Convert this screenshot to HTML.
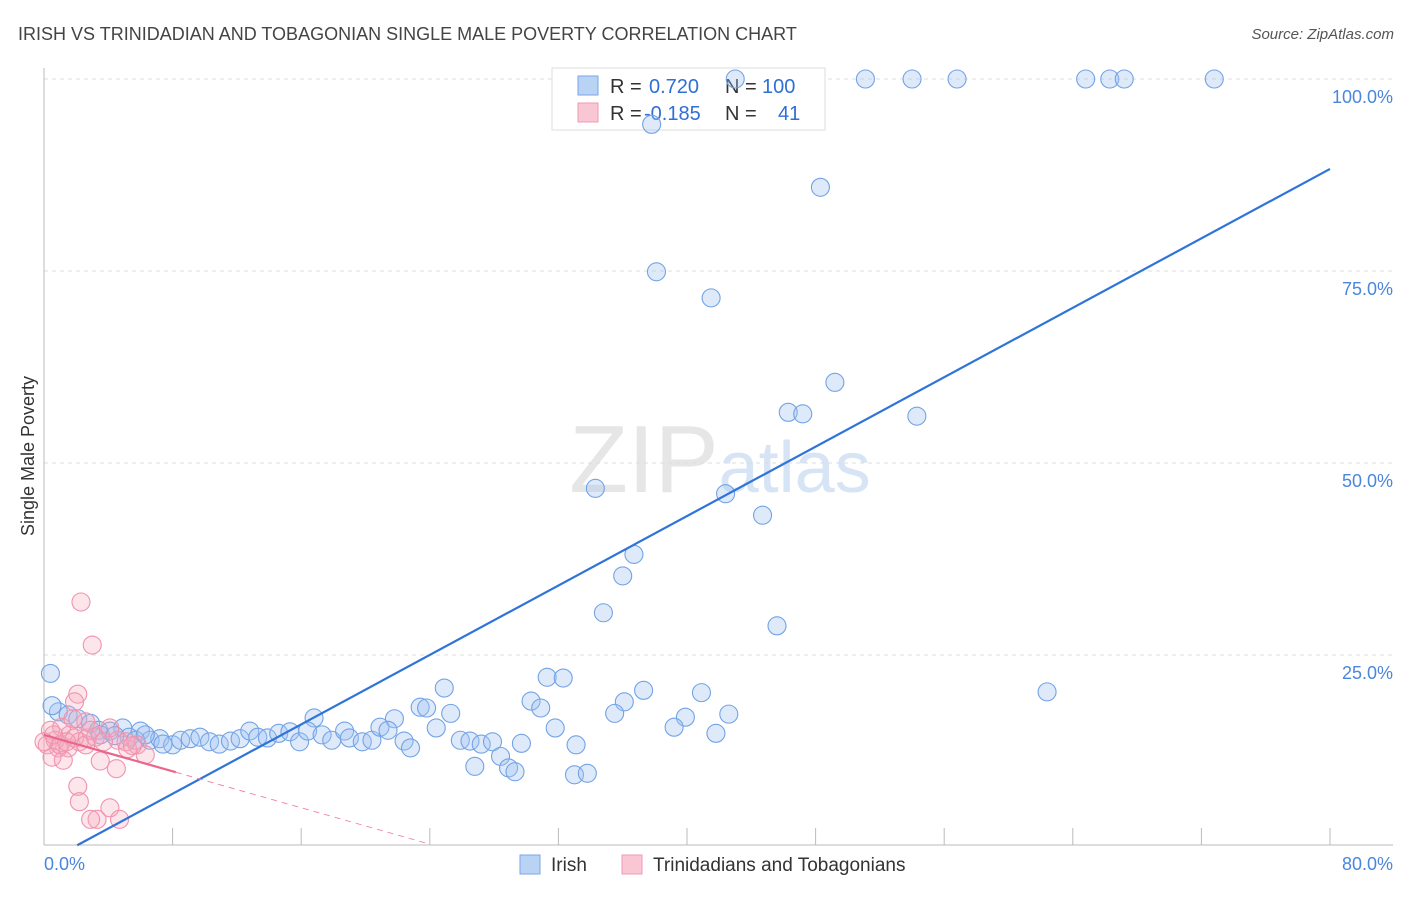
<!DOCTYPE html>
<html><head><meta charset="utf-8"><style>
body{margin:0;background:#fff;font-family:"Liberation Sans",sans-serif;}
svg text{font-family:"Liberation Sans",sans-serif;}
</style></head><body>
<svg id="chart" width="1406" height="892" xmlns="http://www.w3.org/2000/svg">
<text x="18" y="40" font-size="18" fill="#444">IRISH VS TRINIDADIAN AND TOBAGONIAN SINGLE MALE POVERTY CORRELATION CHART</text>
<text x="1394" y="39" font-size="15" fill="#555" text-anchor="end" font-style="italic">Source: ZipAtlas.com</text>
<text x="720" y="492" font-size="96" fill="#e6e6e6" text-anchor="middle" font-family="Liberation Serif">ZIP<tspan fill="#d6e4f5" font-family="Liberation Sans" font-size="72">atlas</tspan></text>
<g id="grid"></g>
<g id="axes"></g>
<g>
<rect x="552" y="68" width="273" height="62" fill="#fff" stroke="#ddd"/>
<rect x="578" y="76" width="20" height="19" fill="#b9d3f5" stroke="#7aa6e6"/>
<rect x="578" y="103" width="20" height="19" fill="#f9c6d4" stroke="#f09ab4"/>
<text x="610" y="93" font-size="20" fill="#333">R =</text>
<text x="649" y="93" font-size="20" fill="#2f6fd6">0.720</text>
<text x="725" y="93" font-size="20" fill="#333">N =</text>
<text x="762" y="93" font-size="20" fill="#2f6fd6">100</text>
<text x="610" y="120" font-size="20" fill="#333">R =</text>
<text x="644" y="120" font-size="20" fill="#2f6fd6">-0.185</text>
<text x="725" y="120" font-size="20" fill="#333">N =</text>
<text x="778" y="120" font-size="20" fill="#2f6fd6">41</text>
</g>
<g id="marks"></g>
<text transform="translate(34,456) rotate(-90)" font-size="18" fill="#333" text-anchor="middle">Single Male Poverty</text>
<g>
<rect x="520" y="855" width="20" height="19" fill="#b9d3f5" stroke="#7aa6e6"/>
<text x="551" y="871" font-size="19" fill="#333">Irish</text>
<rect x="622" y="855" width="20" height="19" fill="#f9c6d4" stroke="#f09ab4"/>
<text x="653" y="871" font-size="19" fill="#333">Trinidadians and Tobagonians</text>
</g>
</svg>
<script>
const irishX=[43.0,51.1,54.0,56.8,64.8,66.3,67.2,72.8,37.8,48.3,38.1,41.5,49.2,46.3,47.2,54.3,34.3,42.4,44.7,36.7,36.0,34.8,45.6,0.4,62.4,31.3,32.3,24.9,37.3,40.9,30.3,36.1,23.4,23.8,35.5,30.9,42.6,25.3,16.8,21.8,39.9,39.2,31.8,24.4,0.9,1.5,2.1,2.9,3.4,4.1,4.9,6.0,5.3,6.6,7.2,8.0,8.5,9.1,9.7,10.3,10.9,11.6,12.2,12.8,13.3,13.9,14.6,15.3,15.9,16.4,17.3,17.9,18.7,19.0,19.8,20.4,20.9,21.4,22.4,22.8,25.9,26.5,27.2,27.9,28.4,29.7,33.1,41.8,26.8,28.9,29.3,33.0,33.8,0.5,3.5,4.4,5.7,6.3,7.4];
const irishY=[100,100,100,100,100,100,100,100,94.1,85.9,74.9,71.5,60.5,56.6,56.4,56.1,46.7,46.0,43.2,38.1,35.3,30.5,28.8,22.6,20.2,22.1,22.0,20.7,20.4,20.1,19.0,18.9,18.2,18.1,17.4,18.1,17.3,17.4,16.8,16.7,16.9,15.6,15.5,15.5,17.6,17.2,16.7,16.1,15.2,15.1,15.5,15.1,14.3,13.9,14.1,13.3,13.9,14.1,14.3,13.7,13.4,13.8,14.1,15.1,14.3,14.2,14.8,15.0,13.7,15.1,14.6,13.9,15.1,14.2,13.7,13.9,15.6,15.2,13.8,12.9,13.9,13.8,13.4,13.7,11.8,13.5,13.3,14.8,10.5,10.3,9.8,9.4,9.6,18.4,14.6,14.5,13.9,14.6,13.4];
const trinX=[2.3,3.0,2.1,1.9,0.4,1.1,1.6,0.7,0.2,0.9,1.5,2.2,2.7,2.6,1.8,3.2,4.1,4.6,5.2,5.8,5.1,3.5,4.5,6.3,2.1,2.2,4.1,3.3,2.9,4.7,0.5,1.2,0.0,1.0,1.9,0.6,1.4,2.6,2.9,3.7,5.5];
const trinY=[31.9,26.3,19.9,18.9,15.2,15.6,14.6,13.9,13.3,12.9,12.9,13.7,14.2,16.3,16.7,14.3,15.5,13.9,12.8,13.3,13.7,11.2,10.2,12.0,7.9,5.9,5.1,3.6,3.6,3.6,11.7,11.3,13.7,13.3,14.2,14.6,13.7,13.3,15.2,13.7,13.2];
const yTicks=[25,50,75,100];
const yTickLabels=["25.0%","50.0%","75.0%","100.0%"];
const xTicks=[0,8,16,24,32,40,48,56,64,72,80];
const irishFit=[1.130,-2.11];
const trinFit=[-0.593,14.6];
const X=v=>44+v*16.075, Y=v=>847-v*7.68;
const NS="http://www.w3.org/2000/svg";
function mk(parent,tag,attrs){const e=document.createElementNS(NS,tag);for(const k in attrs)e.setAttribute(k,attrs[k]);document.getElementById(parent).appendChild(e);return e;}
yTicks.forEach((t,i)=>{
 const l=mk('grid','line',{x1:44,x2:1393,y1:Y(t),y2:Y(t),stroke:'#ddd','stroke-dasharray':'4,4'});
 
 
 const tx=mk('grid','text',{x:1393,y:Y(t)+24,'font-size':18,fill:'#4a86dc','text-anchor':'end'});
 tx.textContent=yTickLabels[i];
 
 
});
const ax=mk('axes','line',{x1:44,x2:1393,y1:845,y2:845,stroke:'#bbb'});


const ay=mk('axes','line',{x1:44,x2:44,y1:68,y2:845,stroke:'#bbb'});


xTicks.forEach(t=>{const l=mk('axes','line',{x1:X(t),x2:X(t),y1:828,y2:845,stroke:'#bbb'});
 
 });
const x0=mk('axes','text',{x:44,y:870,'font-size':18,fill:'#4a86dc'});x0.textContent='0.0%';


const x1=mk('axes','text',{x:1393,y:870,'font-size':18,fill:'#4a86dc','text-anchor':'end'});x1.textContent='80.0%';


irishX.forEach((v,i)=>{const c=mk('marks','circle',{cx:X(v),cy:Y(irishY[i]),r:9,fill:'rgba(160,196,240,0.35)',stroke:'#72a3e6','stroke-width':1.1});
 
 });
trinX.forEach((v,i)=>{const c=mk('marks','circle',{cx:X(v),cy:Y(trinY[i]),r:9,fill:'rgba(244,170,190,0.3)',stroke:'#f093ae','stroke-width':1.1});
 
 });
const bx0=(0-irishFit[1])/irishFit[0]+0.2;
const bl=mk('marks','line',{x1:X(bx0),y1:Y(irishFit[0]*bx0+irishFit[1]),x2:X(80),y2:Y(irishFit[0]*80+irishFit[1]),stroke:'#2f74d8','stroke-width':2.2});


const pl=mk('marks','line',{x1:X(0),y1:Y(trinFit[1]),x2:X(8.2),y2:Y(trinFit[0]*8.2+trinFit[1]),stroke:'#e9668c','stroke-width':2.2});


const pd=mk('marks','line',{x1:X(8.2),y1:Y(trinFit[0]*8.2+trinFit[1]),x2:X(23.7),y2:Y(trinFit[0]*23.7+trinFit[1]),stroke:'#f08aa8','stroke-width':1,'stroke-dasharray':'6,5'});


</script>
</body></html>
